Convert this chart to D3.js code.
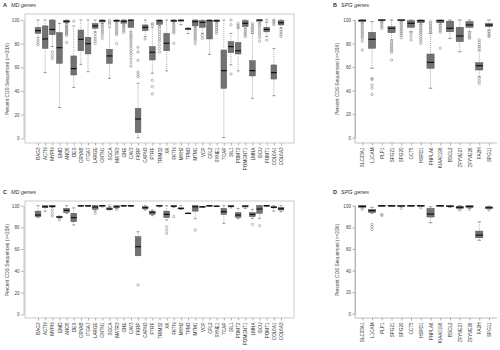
<!DOCTYPE html>
<html>
<head>
<meta charset="utf-8">
<script src="https://cdn.jsdelivr.net/npm/d3@7"></script>
<style>
  body { margin: 0; background: #fff; }
  text { font-family: "Liberation Sans", Arial, sans-serif; }
</style>
</head>
<body>
<div id="chart"></div>
<script>
// Gene names
const mdGenes = ["BAG3","ACTN","MYPN","EMD","ANO5","DES","CRYAB","ITGA7","LARGE","CNTN1","SGCA","MATR3","GNE","CAV3","FKRP","CAPN3","PTRF","TRIM32","XK","FKTN","MYH2","TPM3","MTM1","VCP","CFL2","SYNE1","TCAP","SIL1","POMT2","POMGNT1","LMNA","ISCU","POMT1","COL6A1","COL6A3"];
const spgGenes = ["SLC33A1","L1CAM","PLP1","SPG21","SPG20","CCT5","HSPD1","PNPLA6","KIAA0196","BSCL2","ZFYVE27","ZFYVE26","FA2H","SPG11"];
const yTicks = [0, 20, 40, 60, 80, 100];

// box stats: [lower whisker, q1, median, q3, upper whisker]
const statsA = [
  [85,88.7,91,93.8,100],[55.5,76,84,95,100],[77.5,87.6,92,100,100],[26,63.4,76.6,89.3,97],[97,97.7,98.9,99.7,100],
  [43,53.5,58.9,69.6,95],[62.5,74,83.7,91.5,100],[56.3,71.3,80,85.4,100],[90,93,95,97,100],[97,98.3,99.4,100,100],
  [50.7,63.4,69.6,75.2,94],[97.5,98.6,99.4,100,100],[96,97.2,98.9,100,100],[90,93.8,99.8,100,100],[0.5,4.8,16.3,25.4,46.5],
  [86,91,93.8,95.8,100],[55,66.2,72.7,77.5,94],[95,96.3,99.4,100,100],[57,74,80.3,88.7,100],[97.5,98.5,99.4,100,100],
  [96,99,99.7,100,100],[88.5,92,92.5,93,93.5],[94,95,98.6,100,100],[88.7,93.8,98,99.4,100],[71,84,99.5,100,100],
  [97.5,98.5,99.4,100,100],[0.6,42.3,57.2,74.6,100],[62,72.4,77.5,81.7,88.7],[57,71.3,74,81,93],[93,94.4,97.2,99.4,100],
  [33.8,52.7,57.2,65.6,88.7],[97.5,99,100,100,100],[86,90,92,93.8,98],[36,50.1,55.5,62,76],[93.5,95.8,97.7,99.4,100]
];
const outA = [
  [83,81,79],[],[73,70,67.5],[],[96,95,94,93,92,91,90,89,88,87,81],
  [99],[],[],[88.5,86,84,82,80],[96.5,95,93.5,92,90.5,89,87,84.5],
  [99.5,98,96.5],[96.5,95,93.5,92,90.5,89,87.5,80],[95,94,92.5,91,89.5],[88.5,87,85.5,84,82,80,78,76,74,72,70,67,64,61],[52,54,56,66,73,77],
  [84],[96,97,49,43.7,37.5],[94,92,90,88,86,84,82,79,76,73],[],[96.5,95,93.5,92,90.5,89,80.3],
  [],[],[93,91.5,90,88.5,87,85.5,84,82.5,80],[87,84.5],[],
  [96.5,95,93.5,92,90.5,88.7],[],[100,96,54.4],[97,95.5,94],[92,90.5,89,87.5,86],
  [97,95.5,94,92.5,91,89.5],[96.5,95,93,91,89,87,85,82],[100,83],[100,99,97.5,96],[92,90,88,86]
];

const statsB = [
  [97.5,98.6,99.7,100,100],[59,76,83.6,89.5,98.6],[98.5,99.4,100,100,100],[83,89.2,93,94.3,100],[98.5,99.4,100,100,100],
  [90,93.8,97.2,99.4,100],[96.5,97.7,99.4,100,100],[42,59,64,71.1,88.7],[96.5,97.7,99.4,100,100],[84.4,90,93,99,100],
  [73,81.6,86.4,93.8,100],[90,93.8,95.8,98.6,100],[51.8,57.5,61.2,63.7,74],[91.5,94.3,95.8,97,100]
];
const outB = [
  [96.5,95,93.5,92,90.5,89,87.5,86,84.5,82,74.5],[50.4,49.4,44.8,42,36.8],[97.5,96,94.5,93],[81.5,80,78.5,77,75.5,74,72.5,66],[97.5,96,94.5,93,91.5,90,88.5,87,85],
  [88.7,86,83],[95.5,94,92.5,91,89.5,88,86,84,82,80],[98.6,97,95.5,94,92.5,91,89.5],[95.5,94,92.5,91,89.5,76],[],
  [],[88.7,87,85.5,84.4],[83,81,79,77.3,76,50.4,48,46],[90,88.5,87,85.8]
];

const statsC = [
  [89,89.9,91.4,95,100],[95,98.2,99,100,100],[98.5,98.8,99.4,100,100],[88.5,89,89.6,90,90.5],[93,93.9,95.7,97.5,100],
  [82.2,85.3,89,93,98],[99.5,99.8,100,100,100],[99.5,99.8,100,100,100],[95,96.6,98.8,100,100],[99,99.5,100,100,100],
  [96,96.5,97,98,99],[97.5,98.2,99,100,100],[99.5,99.8,100,100,100],[99.5,99.8,100,100,100],[54,54,62.3,71.5,76],
  [96,97,98.2,99.1,100],[90.8,92,93.9,95,96],[99,99.5,100,100,100],[86.8,89,92,95,100],[98.5,99,99.5,100,100],
  [96.5,97,97.5,98,100],[92.8,92.9,93,93.1,93.2],[88,95,99,100,100],[98.8,98.9,99,99.1,99.2],[99.5,99.8,100,100,100],
  [99.2,99.3,99.5,99.7,99.8],[83.7,92,94.5,97.5,100],[98,99,99.5,100,100],[88,89.3,91.4,93.6,97.5],[97.5,98.8,99.5,100,100],
  [88.3,89.9,92,93.6,96.6],[88.3,93,97,100,100],[99.5,99.8,100,100,100],[95,98,98.5,99.3,100],[94.5,96,97.2,98.5,100]
];
const outC = [
  [],[],[96,93,90.5],[87],[],
  [],[],[],[93],[],
  [100],[96.6],[],[],[27],
  [],[],[],[80.7,77.6,74.5],[90],
  [],[],[77.6],[],[],
  [],[],[],[],[],
  [82.8],[81.6],[],[],[]
];

const statsD = [
  [98,98.5,99.4,100,100],[93,93.8,95.4,96.6,98.5],[99.5,99.8,100,100,100],[99.5,99.8,100,100,100],[99,99.3,99.8,100,100],
  [99.5,99.8,100,100,100],[99.3,99.6,100,100,100],[84.2,89.5,92.3,97.5,99],[99.5,99.8,100,100,100],[98.5,99,99.5,100,100],
  [97,97.5,98.5,99.5,100],[97.5,98.5,99.2,100,100],[68,70.3,72.8,76.5,85],[97,97.5,98.1,99,99.5]
];
const outD = [
  [96.6],[82.7,80.5,78],[92,91],[],[97.5],
  [],[98],[],[],[],
  [96],[96.6],[],[96]
];

const panels = [
  {letter: "A", title: "MD genes", genes: mdGenes, stats: statsA, out: outA,
   left: 25, right: 294, top: 14, bottom: 143, y0: 138.3, y100: 20, x1: 38, xn: 281, boxW: 5.7, frame: true},
  {letter: "B", title: "SPG genes", genes: spgGenes, stats: statsB, out: outB,
   left: 355, right: 497, top: 14, bottom: 143, y0: 137.7, y100: 20, x1: 362.3, xn: 489, boxW: 7.2, frame: false},
  {letter: "C", title: "MD genes", genes: mdGenes, stats: statsC, out: outC,
   left: 25, right: 294, top: 201, bottom: 318, y0: 314.3, y100: 205.7, x1: 38, xn: 281, boxW: 5.7, frame: true},
  {letter: "D", title: "SPG genes", genes: spgGenes, stats: statsD, out: outD,
   left: 355, right: 497, top: 201, bottom: 318, y0: 313.8, y100: 205.7, x1: 362.3, xn: 489, boxW: 7.2, frame: false}
];

const svg = d3.select("#chart").append("svg")
    .attr("width", 500)
    .attr("height", 350);

panels.forEach(function(p) {
    const g = svg.append("g");

    const y = d3.scaleLinear().domain([0, 100]).range([p.y0, p.y100]);
    const x = d3.scalePoint().domain(p.genes).range([p.x1, p.xn]);

    // panel title
    const t = g.append("text")
        .attr("x", p.left - 22)
        .attr("y", p.top - 7)
        .style("font-size", "5.5px")
        .attr("fill", "#333");
    t.append("tspan").style("font-weight", "bold").text(p.letter);
    t.append("tspan").attr("dx", 4).style("font-style", "italic").text(p.title);

    // frame or L axes
    if (p.frame) {
        g.append("rect")
            .attr("x", p.left).attr("y", p.top)
            .attr("width", p.right - p.left).attr("height", p.bottom - p.top)
            .attr("fill", "none").attr("stroke", "#aaa").attr("stroke-width", 0.6);
    } else {
        g.append("line")
            .attr("x1", p.left).attr("x2", p.right)
            .attr("y1", p.bottom).attr("y2", p.bottom)
            .attr("stroke", "#999").attr("stroke-width", 0.6);
        g.append("line")
            .attr("x1", p.left).attr("x2", p.left)
            .attr("y1", y(100)).attr("y2", p.bottom)
            .attr("stroke", "#999").attr("stroke-width", 0.6);
    }

    // y axis
    const yAxis = g.append("g")
        .attr("transform", `translate(${p.frame ? p.left - 1.5 : p.left},0)`)
        .call(d3.axisLeft(y).tickValues(yTicks).tickSize(2.5).tickSizeOuter(0).tickPadding(1.5));
    yAxis.select(".domain").attr("stroke", "#888").attr("stroke-width", 0.5);
    yAxis.selectAll(".tick line").attr("stroke", "#666").attr("stroke-width", 0.5);
    yAxis.selectAll("text").style("font-size", "4.6px").attr("fill", "#444");

    // y label
    g.append("text")
        .attr("transform", "rotate(-90)")
        .attr("x", -(p.y0 + p.y100) / 2)
        .attr("y", p.left - 16)
        .style("text-anchor", "middle")
        .style("font-size", "4.8px")
        .attr("fill", "#444")
        .text("Percent CDS Sequenced (>=20X)");

    // x axis
    const xAxis = g.append("g")
        .attr("transform", `translate(0,${p.bottom})`)
        .call(d3.axisBottom(x).tickSize(2.5).tickSizeOuter(0));
    xAxis.select(".domain").remove();
    xAxis.selectAll(".tick line").attr("stroke", "#666").attr("stroke-width", 0.5);
    xAxis.selectAll("text")
        .attr("transform", "rotate(-90)")
        .attr("x", -4.5)
        .attr("y", 0)
        .attr("dy", "0.35em")
        .style("text-anchor", "end")
        .style("font-size", "4.6px")
        .attr("fill", "#333");

    // boxes
    const items = p.genes.map((name, i) => ({name: name, s: p.stats[i], out: p.out[i]}));
    const bw = p.boxW;

    const box = g.selectAll(".box")
        .data(items)
        .enter().append("g")
        .attr("class", "box")
        .attr("transform", d => `translate(${x(d.name)},0)`);

    // whiskers
    box.append("line")
        .attr("y1", d => y(d.s[0])).attr("y2", d => y(d.s[1]))
        .attr("stroke", "#777").attr("stroke-width", 0.6).attr("stroke-dasharray", "1,1");
    box.append("line")
        .attr("y1", d => y(d.s[3])).attr("y2", d => y(d.s[4]))
        .attr("stroke", "#777").attr("stroke-width", 0.6).attr("stroke-dasharray", "1,1");
    // staples
    box.append("line")
        .attr("x1", -bw / 4).attr("x2", bw / 4)
        .attr("y1", d => y(d.s[0])).attr("y2", d => y(d.s[0]))
        .attr("stroke", "#555").attr("stroke-width", 0.6);
    box.append("line")
        .attr("x1", -bw / 4).attr("x2", bw / 4)
        .attr("y1", d => y(d.s[4])).attr("y2", d => y(d.s[4]))
        .attr("stroke", "#555").attr("stroke-width", 0.6);

    // box
    box.append("rect")
        .attr("x", -bw / 2)
        .attr("width", bw)
        .attr("y", d => y(d.s[3]))
        .attr("height", d => Math.max(0.6, y(d.s[1]) - y(d.s[3])))
        .attr("fill", "#727272")
        .attr("stroke", "#555")
        .attr("stroke-width", 0.5);

    // median
    box.append("line")
        .attr("x1", -bw / 2).attr("x2", bw / 2)
        .attr("y1", d => y(d.s[2])).attr("y2", d => y(d.s[2]))
        .attr("stroke", "#111").attr("stroke-width", 1.2);

    // outliers
    box.selectAll("circle")
        .data(d => d.out)
        .enter().append("circle")
        .attr("cx", 0)
        .attr("cy", v => y(v))
        .attr("r", 1.2)
        .attr("fill", "none")
        .attr("stroke", "#777")
        .attr("stroke-width", 0.5);
});
</script>
</body>
</html>
